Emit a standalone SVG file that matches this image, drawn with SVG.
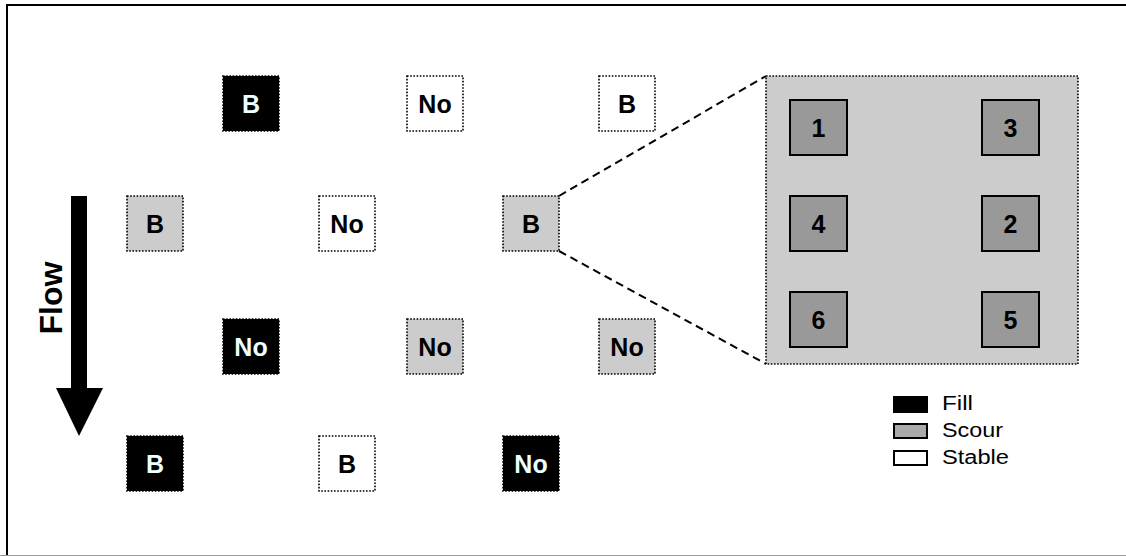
<svg xmlns="http://www.w3.org/2000/svg" width="1126" height="556" viewBox="0 0 1126 556">
<style>
.node{stroke:#000;stroke-width:1.6;stroke-dasharray:1.6 1.6}
.fill{fill:#000}
.scour{fill:#cccccc}
.stable{fill:#fff}
.lbl{font-family:"Liberation Sans",Arial,sans-serif;font-weight:bold;font-size:25px;text-anchor:middle}
.lw{fill:#eeffff}
.lb{fill:#000}
.inner{fill:#999999;stroke:#000;stroke-width:2}
.leg{font-family:"Liberation Sans",Arial,sans-serif;font-size:20px;fill:#000}
.sw{stroke:#000;stroke-width:2}
.conn{stroke:#000;stroke-width:2;stroke-dasharray:8 5;fill:none}
</style>
<rect x="0" y="0" width="1126" height="556" fill="#fff"/>
<path d="M7,556 V5 H1126" fill="none" stroke="#000" stroke-width="2"/>
<line x1="0" y1="555.5" x2="1126" y2="555.5" stroke="#999" stroke-width="1.2"/>

<g id="connectors">
<line class="conn" x1="559" y1="196" x2="766" y2="76"/>
<line class="conn" x1="559" y1="251" x2="766" y2="364"/>
</g>

<g id="flow">
<polygon points="71,196 87,196 87,388 103,388 79,436 56,388 71,388" fill="#000"/>
<text transform="translate(62,298) rotate(-90)" text-anchor="middle" font-family="Liberation Sans, Arial, sans-serif" font-weight="bold" font-size="32" fill="#000">Flow</text>
</g>

<g id="n1"><rect class="node fill" x="223" y="76" width="56" height="55"/><text class="lbl lw" x="251" y="113">B</text></g>
<g id="n2"><rect class="node stable" x="407" y="76" width="56" height="55"/><text class="lbl lb" x="435" y="113">No</text></g>
<g id="n3"><rect class="node stable" x="599" y="76" width="56" height="55"/><text class="lbl lb" x="627" y="113">B</text></g>

<g id="n4"><rect class="node scour" x="127" y="196" width="56" height="55"/><text class="lbl lb" x="155" y="233">B</text></g>
<g id="n5"><rect class="node stable" x="319" y="196" width="56" height="55"/><text class="lbl lb" x="347" y="233">No</text></g>
<g id="n6"><rect class="node scour" x="503" y="196" width="56" height="55"/><text class="lbl lb" x="531" y="233">B</text></g>

<g id="n7"><rect class="node fill" x="223" y="319" width="56" height="55"/><text class="lbl lw" x="251" y="356">No</text></g>
<g id="n8"><rect class="node scour" x="407" y="319" width="56" height="55"/><text class="lbl lb" x="435" y="356">No</text></g>
<g id="n9"><rect class="node scour" x="599" y="319" width="56" height="55"/><text class="lbl lb" x="627" y="356">No</text></g>

<g id="n10"><rect class="node fill" x="127" y="436" width="56" height="55"/><text class="lbl lw" x="155" y="473">B</text></g>
<g id="n11"><rect class="node stable" x="319" y="436" width="56" height="55"/><text class="lbl lb" x="347" y="473">B</text></g>
<g id="n12"><rect class="node fill" x="503" y="436" width="56" height="55"/><text class="lbl lw" x="531" y="473">No</text></g>

<g id="detail">
<rect class="node scour" x="766" y="76" width="312" height="288"/>
<g id="d1"><rect class="inner" x="790" y="100" width="57" height="55"/><text class="lbl lb" x="818.5" y="137">1</text></g>
<g id="d3"><rect class="inner" x="982" y="100" width="57" height="55"/><text class="lbl lb" x="1010.5" y="137">3</text></g>
<g id="d4"><rect class="inner" x="790" y="196" width="57" height="55"/><text class="lbl lb" x="818.5" y="233">4</text></g>
<g id="d2"><rect class="inner" x="982" y="196" width="57" height="55"/><text class="lbl lb" x="1010.5" y="233">2</text></g>
<g id="d6"><rect class="inner" x="790" y="292" width="57" height="55"/><text class="lbl lb" x="818.5" y="329">6</text></g>
<g id="d5"><rect class="inner" x="982" y="292" width="57" height="55"/><text class="lbl lb" x="1010.5" y="329">5</text></g>
</g>

<g id="legend">
<rect class="sw" x="894" y="397" width="33" height="15" fill="#000"/>
<text class="leg" x="942" y="409.5" textLength="31" lengthAdjust="spacingAndGlyphs">Fill</text>
<rect class="sw" x="894" y="424" width="33" height="14" fill="#aaaaaa"/>
<text class="leg" x="942" y="436.5" textLength="61" lengthAdjust="spacingAndGlyphs">Scour</text>
<rect class="sw" x="894" y="451" width="33" height="14" fill="#fff"/>
<text class="leg" x="942" y="463.5" textLength="67" lengthAdjust="spacingAndGlyphs">Stable</text>
</g>
</svg>
